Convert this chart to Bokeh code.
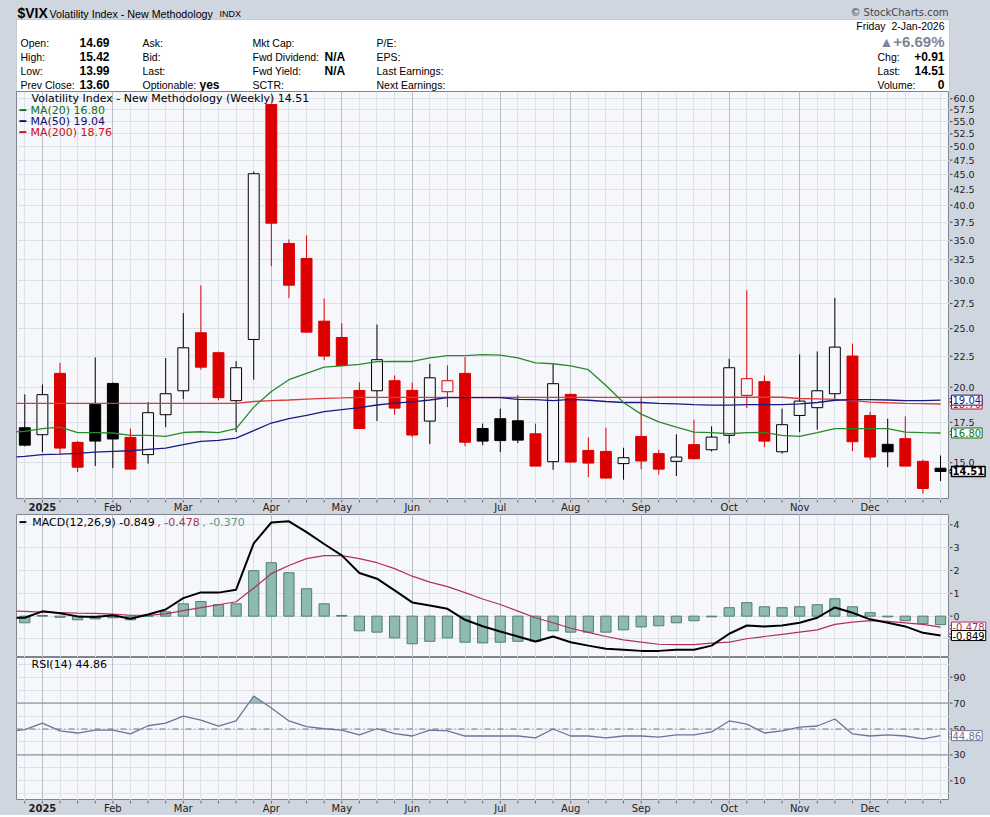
import numpy as np
from bokeh.plotting import figure
from bokeh.layouts import column, row
from bokeh.models import Range1d, FixedTicker, Label, Grid, Span, BoxAnnotation
from bokeh.embed import file_html
from bokeh.resources import INLINE

# ---------------- data (weekly, week index 0 = week of 30-Dec-2024) ----------------
weeks = list(range(53))
line_weeks = list(range(-1, 53))  # overlay lines also carry the week before the first candle

opens = [17.14, 16.69, 21.08, 16.21, 18.75, 20.29, 16.52, 15.47, 18.01, 19.73,
         24.61, 22.81, 19.00, 23.99, 58.70, 34.58, 32.66, 25.72, 24.17, 19.76,
         19.73, 20.50, 19.76, 17.58, 19.66, 21.08, 17.09, 17.74, 17.60, 16.75,
         15.06, 19.46, 15.72, 15.66, 14.95, 16.58, 15.53, 15.08, 16.07, 15.76,
         16.65, 19.39, 20.43, 15.64, 17.96, 18.50, 19.51, 22.52, 17.96, 16.09,
         16.44, 15.08, 14.69]
highs = [19.46, 20.21, 21.95, 16.30, 22.40, 20.35, 17.08, 18.90, 22.35, 26.52,
         29.47, 22.90, 22.09, 45.49, 58.70, 35.11, 35.65, 28.04, 25.53, 20.37,
         25.40, 20.92, 20.35, 21.87, 21.73, 22.43, 17.41, 18.43, 19.39, 17.41,
         21.87, 19.50, 16.52, 17.14, 15.88, 19.31, 15.76, 16.71, 17.67, 17.23,
         22.29, 28.92, 20.92, 18.43, 22.66, 22.92, 28.12, 23.61, 18.19, 17.74,
         17.90, 15.17, 15.42]
lows = [15.97, 15.62, 15.47, 14.48, 14.81, 14.70, 14.64, 14.95, 17.18, 19.12,
        21.38, 19.02, 16.86, 20.58, 31.72, 28.08, 24.60, 22.18, 21.70, 17.06,
        17.58, 18.01, 16.54, 16.10, 18.54, 15.97, 16.04, 15.62, 16.16, 14.81,
        14.60, 15.00, 14.20, 14.12, 14.06, 14.64, 14.33, 14.26, 15.20, 15.66,
        16.13, 18.47, 15.92, 15.53, 16.86, 17.01, 19.15, 15.68, 15.17, 14.75,
        14.81, 13.33, 13.99]
closes = [16.04, 19.44, 15.86, 14.75, 16.29, 16.42, 14.64, 18.15, 19.51, 23.24,
          21.59, 19.22, 21.54, 45.10, 37.36, 29.50, 24.67, 22.52, 21.73, 17.09,
          22.21, 18.47, 16.67, 20.73, 20.50, 16.22, 16.29, 16.32, 16.35, 14.81,
          20.27, 15.04, 14.98, 14.15, 15.29, 15.10, 14.64, 15.33, 15.23, 16.54,
          21.54, 20.66, 16.29, 17.34, 18.97, 19.73, 23.30, 16.25, 15.33, 15.64,
          14.81, 13.60, 14.51]

ma20 = [16.86,
        16.90, 17.08, 17.18, 16.82, 16.82, 16.80, 16.65, 16.65, 16.58, 16.83,
        16.88, 16.82, 17.08, 18.54, 19.68, 20.58, 21.09, 21.59, 21.70, 21.82,
        22.05, 22.06, 22.06, 22.37, 22.56, 22.56, 22.64, 22.60, 22.37, 21.95,
        21.87, 21.70, 21.38, 20.13, 18.87, 18.05, 17.52, 17.18, 16.86, 16.82,
        16.75, 16.82, 16.83, 16.65, 16.58, 16.82, 17.08, 17.08, 17.08, 17.08,
        16.86, 16.82, 16.80]
ma50 = [15.30,
        15.37, 15.47, 15.50, 15.54, 15.62, 15.66, 15.70, 15.78, 15.86, 16.07,
        16.27, 16.33, 16.48, 16.95, 17.45, 17.74, 17.96, 18.22, 18.36, 18.50,
        18.69, 18.83, 18.91, 19.05, 19.22, 19.22, 19.22, 19.22, 19.10, 19.08,
        19.00, 19.10, 19.03, 18.94, 18.87, 18.87, 18.81, 18.77, 18.72, 18.68,
        18.68, 18.72, 18.72, 18.72, 18.77, 18.87, 19.03, 19.07, 19.07, 19.05,
        19.00, 19.00, 19.04]
ma200 = [18.80,
         18.80, 18.80, 18.80, 18.80, 18.80, 18.80, 18.80, 18.80, 18.80, 18.80,
         18.80, 18.80, 18.80, 18.94, 19.00, 19.05, 19.12, 19.17, 19.20, 19.24,
         19.24, 19.24, 19.24, 19.24, 19.24, 19.24, 19.24, 19.24, 19.24, 19.24,
         19.24, 19.24, 19.24, 19.24, 19.24, 19.24, 19.25, 19.25, 19.25, 19.25,
         19.25, 19.25, 19.25, 19.25, 19.16, 19.13, 19.10, 19.00, 18.90, 18.85,
         18.81, 18.79, 18.76]

macd_line = [-0.07,
             -0.07, 0.21, 0.13, -0.01, -0.04, 0.04, -0.11, 0.07, 0.29, 0.79,
             1.04, 1.03, 1.16, 3.19, 4.10, 4.15, 3.68, 3.16, 2.66, 1.89,
             1.64, 1.13, 0.60, 0.47, 0.32, -0.16, -0.44, -0.67, -0.89, -1.11,
             -0.89, -1.14, -1.29, -1.43, -1.47, -1.52, -1.52, -1.47, -1.47, -1.29,
             -0.77, -0.41, -0.45, -0.41, -0.29, -0.07, 0.38, 0.15, -0.14, -0.29,
             -0.45, -0.73, -0.849]
macd_signal = [0.23,
               0.21, 0.18, 0.16, 0.13, 0.12, 0.09, 0.04, 0.03, 0.10, 0.24,
               0.37, 0.50, 0.63, 1.23, 1.86, 2.22, 2.52, 2.65, 2.65, 2.52,
               2.34, 2.08, 1.75, 1.49, 1.29, 1.03, 0.75, 0.51, 0.22, -0.07,
               -0.29, -0.53, -0.71, -0.89, -1.04, -1.14, -1.23, -1.25, -1.25, -1.18,
               -1.14, -0.99, -0.89, -0.80, -0.70, -0.60, -0.36, -0.26, -0.20, -0.23,
               -0.29, -0.36, -0.478]
macd_hist = [-0.29, 0.03, -0.05, -0.16, -0.12, -0.07, -0.16, 0.01, 0.19, 0.54,
             0.64, 0.50, 0.54, 1.99, 2.34, 1.90, 1.20, 0.54, 0.03, -0.64,
             -0.70, -0.95, -1.21, -1.10, -0.95, -1.14, -1.17, -1.14, -1.10, -1.10,
             -0.64, -0.70, -0.70, -0.70, -0.60, -0.47, -0.42, -0.29, -0.20, -0.03,
             0.37, 0.59, 0.41, 0.37, 0.41, 0.50, 0.76, 0.41, 0.15, -0.03,
             -0.20, -0.33, -0.370]
rsi14 = [48.0,
         49.5, 54.6, 48.5, 46.9, 49.2, 49.2, 46.2, 52.5, 54.6, 60.0,
         56.9, 52.3, 56.2, 75.4, 66.2, 56.2, 51.8, 50.2, 49.2, 45.4,
         50.2, 46.4, 44.6, 49.2, 48.5, 44.6, 44.6, 44.6, 44.6, 43.1,
         50.0, 44.6, 44.6, 43.1, 44.6, 44.6, 43.8, 45.4, 45.4, 47.7,
         56.2, 53.8, 46.9, 48.5, 51.5, 52.3, 57.7, 46.2, 44.6, 45.4,
         44.6, 42.3, 44.86]

month_names = ["2025", "Feb", "Mar", "Apr", "May", "Jun", "Jul", "Aug", "Sep", "Oct", "Nov", "Dec"]
month_weeks = [1, 5, 9, 14, 18, 22, 27, 31, 35, 40, 44, 48]
price_ticks = [15.0, 17.5, 20.0, 22.5, 25.0, 27.5, 30.0, 32.5, 35.0, 37.5,
               40.0, 42.5, 45.0, 47.5, 50.0, 52.5, 55.0, 57.5, 60.0]
macd_ticks = [-1, 0, 1, 2, 3, 4]
macd_tick_labels = ["", "0", "1", "2", "3", "4"]
rsi_ticks = [10, 30, 50, 70, 90]
rsi_grid = [0, 10, 20, 30, 40, 50, 60, 70, 80, 90, 100]

# ---------------- style / layout ----------------
BG = "#d0d6df"
PLOT_BG = "#f5f7fb"
FRAME = "#7f8590"
GRID = "#dde1e8"
MGRID = "#b7bcc6"
RED = "#dd0000"
BLACK = "#000000"
GREEN = "#2a8a2a"
NAVY = "#1a1a80"
MA200C = "#e03838"
HIST_FILL = "#8fbab1"
HIST_LINE = "#4e7d74"
SIGC = "#b0305c"
RSIC = "#6e7499"
FONT = "DejaVu Sans"
HF = "Liberation Sans"

TOTAL_W = 990
LEFT = 16          # grey strip left of the panels
MAIN_W = 949       # figure width incl. left strip -> frame 16..949
SIDE_W = TOTAL_W - MAIN_W
X0, X1 = -0.471, 52.51
PXW = (MAIN_W - LEFT) / (X1 - X0)
xr = Range1d(X0, X1)


def base_fig(width, height, xr_, yr_, ytype="linear", left=0, outline=None, bg=BG):
    f = figure(width=width, height=height, x_range=xr_, y_range=yr_, y_axis_type=ytype,
               x_axis_location=None, y_axis_location=None, toolbar_location=None,
               output_backend="svg", title=None, min_border_left=left, min_border_right=0,
               min_border_top=0, min_border_bottom=0)
    f.background_fill_color = bg
    f.border_fill_color = BG
    f.outline_line_color = outline
    f.grid.visible = False
    return f


def main_panel(height, yr, ytype, hticks):
    f = base_fig(MAIN_W, height, xr, yr, ytype, left=LEFT, outline=FRAME, bg=PLOT_BG)
    f.add_layout(Grid(dimension=1, ticker=FixedTicker(ticks=hticks), grid_line_color=GRID))
    f.add_layout(Grid(dimension=0, ticker=FixedTicker(ticks=weeks), grid_line_color=GRID))
    f.add_layout(Grid(dimension=0, ticker=FixedTicker(ticks=month_weeks), grid_line_color=MGRID))
    return f


def side_panel(height, yr, ytype, ticks, labels):
    s = base_fig(SIDE_W, height, Range1d(0, SIDE_W), yr, ytype)
    s.segment(x0=[0] * len(ticks), x1=[3] * len(ticks), y0=ticks, y1=ticks,
              line_color="#444444", line_width=1)
    for t, lab in zip(ticks, labels):
        s.add_layout(Label(x=4, y=t, x_units="screen", y_units="data", text=lab,
                           text_align="left", text_baseline="middle", text_font=FONT,
                           text_font_size="9.5px", text_color="#222222"))
    return s


def txt(fig, x, y, text, size="11px", color="#000000", bold=False, align="left",
        font=FONT, xu="screen", yu="screen"):
    fig.add_layout(Label(x=x, y=y, x_units=xu, y_units=yu, text=text, text_align=align,
                         text_baseline="middle", text_font=font, text_font_size=size,
                         text_color=color, text_font_style="bold" if bold else "normal"))


def tag(side, yval, text, color, bold=False, lw=1):
    side.scatter(x=[3.5], y=[yval], marker="triangle", angle=np.pi / 2, size=9,
                 fill_color="white", line_color=color, line_width=lw)
    side.add_layout(Label(x=2, y=yval, x_units="screen", y_units="data", text=text,
                          text_align="left", text_baseline="middle", text_font=FONT,
                          text_font_size="10px", text_color=color,
                          text_font_style="bold" if bold else "normal",
                          background_fill_color="white", border_line_color=color,
                          border_line_width=lw, padding=1))


def date_row(height, ymid):
    d = base_fig(TOTAL_W, height, Range1d(X0 - LEFT / PXW, X1 + SIDE_W / PXW), Range1d(0, height))
    # short week tick marks hanging below the panel frame
    d.segment(x0=weeks, x1=weeks, y0=[height] * len(weeks), y1=[height - 3] * len(weeks),
              line_color="#666a73", line_width=1)
    for wk, name in zip(month_weeks, month_names):
        txt(d, wk, ymid, name, size="10px", xu="data", align="center", color="#222222",
            bold=(name == "2025"))
    return d


# ---------------- header ----------------
HH = 91
hp = base_fig(TOTAL_W, HH, Range1d(0, TOTAL_W), Range1d(0, HH))
hp.add_layout(BoxAnnotation(left=16, right=949, bottom=0, top=HH - 19, fill_color="white",
                            fill_alpha=1.0, line_color=FRAME, line_width=1, level="underlay"))


def h(px, py, text, **kw):
    kw.setdefault("font", HF)
    kw.setdefault("size", "10.5px")
    txt(hp, px, HH - py, text, **kw)


h(17, 12.5, "$VIX", size="14px", bold=True)
h(49, 13, "Volatility Index - New Methodology", size="10.7px")
h(219, 13.5, "INDX", size="9px")
h(948, 12, "\u00a9 StockCharts.com", size="10px", color="#444444", align="right", font=FONT)

rows_y = [42, 56, 70, 84]
for y, t in zip(rows_y, ["Open:", "High:", "Low:", "Prev Close:"]):
    h(20, y, t)
for y, t in zip(rows_y, ["14.69", "15.42", "13.99", "13.60"]):
    h(79, y, t, size="12px", bold=True)
for y, t in zip(rows_y, ["Ask:", "Bid:", "Last:", "Optionable:"]):
    h(142, y, t)
h(199, 84.5, "yes", size="12px", bold=True)
for y, t in zip(rows_y, ["Mkt Cap:", "Fwd Dividend:", "Fwd Yield:", "SCTR:"]):
    h(252, y, t)
h(324, 56, "N/A", size="12px", bold=True)
h(324, 70, "N/A", size="12px", bold=True)
for y, t in zip(rows_y, ["P/E:", "EPS:", "Last Earnings:", "Next Earnings:"]):
    h(376, y, t)
h(944, 25, "Friday\u00a0\u00a02-Jan-2026", align="right")
h(879, 41, "\u25b2", size="14px", color="#7d8594")
h(944, 41, "+6.69%", size="15px", bold=True, color="#7d8594", align="right")
h(877, 56, "Chg:")
h(944, 56, "+0.91", size="12px", bold=True, align="right")
h(877, 70, "Last:")
h(944, 70, "14.51", size="12px", bold=True, align="right")
h(877, 84, "Volume:")
h(944, 84, "0", size="12px", bold=True, align="right")

# ---------------- price panel ----------------
PH = 408
pyr = Range1d(13.04, 61.69)
pp = main_panel(PH, pyr, "log", price_ticks)

colors = [BLACK] + [BLACK if closes[i] >= closes[i - 1] else RED for i in range(1, len(closes))]
body_fill = [PLOT_BG if c > o else col for o, c, col in zip(opens, closes, colors)]
pp.segment(x0=weeks, y0=lows, x1=weeks, y1=highs, line_color=colors, line_width=1)
pp.vbar(x=weeks, width=0.62, top=[max(o, c) for o, c in zip(opens, closes)],
        bottom=[min(o, c) for o, c in zip(opens, closes)],
        fill_color=body_fill, line_color=colors, line_width=1)
pp.line(line_weeks, ma200, line_color=MA200C, line_width=1.3)
pp.line(line_weeks, ma50, line_color=NAVY, line_width=1.3)
pp.line(line_weeks, ma20, line_color=GREEN, line_width=1.3)

txt(pp, 15, PH - 7.3, f"Volatility Index - New Methodology (Weekly) {closes[-1]:.2f}")
for k, (name, arr, col) in enumerate([("MA(20)", ma20, "#157015"), ("MA(50)", ma50, "#101070"),
                                      ("MA(200)", ma200, "#cc1010")]):
    yy = PH - 18.7 - 11 * k
    txt(pp, 3, yy, "\u2501", size="11px", color=col)
    txt(pp, 14, yy, f"{name} {arr[-1]:.2f}", color=col)

ps = side_panel(PH, pyr, "log", price_ticks, [f"{t:.1f}" for t in price_ticks])
tag(ps, ma200[-1], f"{ma200[-1]:.2f}", "#cc1010")
tag(ps, ma50[-1], f"{ma50[-1]:.2f}", NAVY)
tag(ps, ma20[-1], f"{ma20[-1]:.2f}", "#157015")
tag(ps, closes[-1], f"{closes[-1]:.2f}", BLACK, bold=True, lw=1.5)

dates1 = date_row(15, 7.5)

# ---------------- MACD panel ----------------
MH = 143
myr = Range1d(-1.81, 4.45)
mp = main_panel(MH, myr, "linear", macd_ticks)
mp.vbar(x=weeks, width=0.58, top=macd_hist, bottom=0, fill_color=HIST_FILL,
        line_color=HIST_LINE, line_width=1)
mp.line(line_weeks, macd_signal, line_color=SIGC, line_width=1.2)
mp.line(line_weeks, macd_line, line_color=BLACK, line_width=2)
txt(mp, 3, MH - 7.7, "\u2501", size="11px")
txt(mp, 15.7, MH - 7.7, f"MACD(12,26,9) {macd_line[-1]:.3f}")
txt(mp, 140.7, MH - 7.7, f", {macd_signal[-1]:.3f}", color=SIGC)
txt(mp, 185.7, MH - 7.7, f", {macd_hist[-1]:.3f}", color="#5d9a8e")
ms = side_panel(MH, myr, "linear", macd_ticks, macd_tick_labels)
tag(ms, macd_signal[-1], f"{macd_signal[-1]:.3f}", SIGC)
tag(ms, macd_line[-1], f"{macd_line[-1]:.3f}", BLACK)

# ---------------- RSI panel ----------------
RH = 143
ryr = Range1d(-5.15, 105.15)
rp = main_panel(RH, ryr, "linear", rsi_grid)
rp.add_layout(Span(location=70, dimension="width", line_color="#7c8190", line_width=1))
rp.add_layout(Span(location=30, dimension="width", line_color="#7c8190", line_width=1))
rp.add_layout(Span(location=50, dimension="width", line_color="#6f7482", line_width=1,
                   line_dash="6 3 1 3"))

# shaded part of the RSI line above the 70 level
ax_, ay_ = [], []
lvl = 70.0
for i in range(len(line_weeks) - 1):
    x0, y0, x1, y1 = line_weeks[i], rsi14[i], line_weeks[i + 1], rsi14[i + 1]
    ax_.append(x0)
    ay_.append(max(y0, lvl))
    if (y0 - lvl) * (y1 - lvl) < 0:
        t = (lvl - y0) / (y1 - y0)
        ax_.append(x0 + t * (x1 - x0))
        ay_.append(lvl)
ax_.append(line_weeks[-1])
ay_.append(max(rsi14[-1], lvl))
rp.varea(x=ax_, y1=[lvl] * len(ax_), y2=ay_, fill_color=HIST_FILL, fill_alpha=0.9)
rp.line(line_weeks, rsi14, line_color=RSIC, line_width=1.3)
txt(rp, 15, RH - 7, f"RSI(14) {rsi14[-1]:.2f}")
rs = side_panel(RH, ryr, "linear", rsi_ticks, [str(t) for t in rsi_ticks])
tag(rs, rsi14[-1], f"{rsi14[-1]:.2f}", RSIC)

dates2 = date_row(15, 7.3)

layout = column(hp, row(pp, ps, spacing=0), dates1, row(mp, ms, spacing=0),
                row(rp, rs, spacing=0), dates2, spacing=0)
layout.styles = {"background-color": BG}
open("out.html", "w").write(file_html(layout, INLINE))
